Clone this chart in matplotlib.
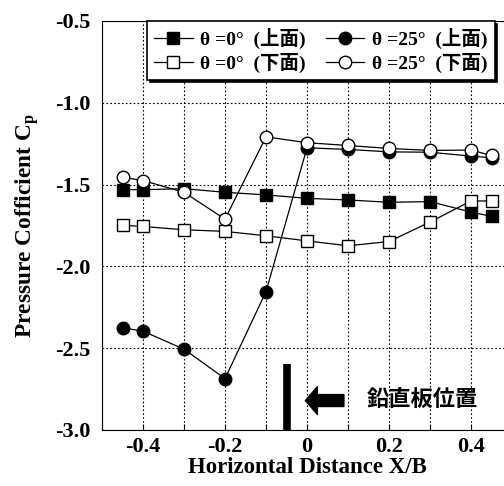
import matplotlib
matplotlib.use("Agg")
import matplotlib.pyplot as plt
from matplotlib.ticker import MultipleLocator, FixedLocator

plt.rcParams['axes.unicode_minus'] = False
plt.rcParams['mathtext.fontset'] = 'custom'
plt.rcParams['mathtext.rm'] = 'Liberation Serif:bold'
plt.rcParams['mathtext.bf'] = 'Liberation Serif:bold'

x = [-0.45, -0.4, -0.3, -0.2, -0.1, 0.0, 0.1, 0.2, 0.3, 0.4, 0.45]
cp_0_upper = [-1.531, -1.531, -1.525, -1.547, -1.563, -1.584, -1.594, -1.608, -1.604, -1.668, -1.694]
cp_0_lower = [-1.749, -1.756, -1.776, -1.786, -1.813, -1.844, -1.874, -1.848, -1.729, -1.600, -1.600]
cp_25_upper = [-2.375, -2.396, -2.506, -2.686, -2.154, -1.275, -1.285, -1.300, -1.302, -1.326, -1.336]
cp_25_lower = [-1.455, -1.475, -1.547, -1.711, -1.208, -1.244, -1.261, -1.279, -1.291, -1.289, -1.322]

labels = ["θ =0°  (上面)", "θ =0°  (下面)", "θ =25°  (上面)", "θ =25°  (下面)"]
xticks = [-0.4, -0.2, 0.0, 0.2, 0.4]
xticklabels = ["-0.4", "-0.2", "0", "0.2", "0.4"]
yticks = [-3.0, -2.5, -2.0, -1.5, -1.0, -0.5]
yticklabels = ["-3.0", "-2.5", "-2.0", "-1.5", "-1.0", "-0.5"]
plate_x = -0.05
plate_top = -2.594
plate_text = "鉛直板位置"

serif = ['Liberation Serif', 'Noto Sans CJK JP']

fig = plt.figure(figsize=(5.04, 4.86), dpi=100)
ax = fig.add_axes([102/504, 1-430/486, 410/504, 409/486])

ax.plot(x, cp_25_upper, '-o', color='k', lw=0.9, ms=9, mfc='k', mec='k', label=labels[2], zorder=3)
ax.plot(x, cp_0_upper, '-s', color='k', lw=0.9, ms=9, mfc='k', mec='k', label=labels[0], zorder=3)
ax.plot(x, cp_0_lower, '-s', color='k', lw=0.9, ms=9, mfc='white', mec='k', mew=1.0, label=labels[1], zorder=3)
ax.plot(x, cp_25_lower, '-o', color='k', lw=0.9, ms=9, mfc='white', mec='k', mew=1.0, label=labels[3], zorder=4)

ax.set_xlim(-0.5, 0.5)
ax.set_ylim(-3.0, -0.5)
ax.xaxis.set_major_locator(FixedLocator(xticks))
ax.xaxis.set_minor_locator(MultipleLocator(0.1))
ax.set_xticklabels(xticklabels)
ax.yaxis.set_major_locator(FixedLocator(yticks))
ax.set_yticklabels(yticklabels)
ax.grid(True, which='both', axis='x', linestyle=(0, (1.5, 2)), color='k', lw=0.8)
ax.grid(True, which='major', axis='y', linestyle=(0, (1.5, 2)), color='k', lw=0.8)
ax.tick_params(which='both', direction='in', length=4, width=0.8)
ax.tick_params(axis='y', length=0)
for lab in ax.get_xticklabels() + ax.get_yticklabels():
    lab.set_fontfamily('Liberation Serif')
    lab.set_fontweight('bold')
    lab.set_fontsize(16)
ax.tick_params(axis='x', pad=5)
ax.tick_params(axis='y', pad=8)

ax.set_xlabel("Horizontal Distance X/B", family='Liberation Serif', weight='bold', fontsize=16.5, labelpad=0)
ax.set_ylabel(r"Pressure Cofficient C$_\mathbf{p}$", family='Liberation Serif', weight='bold', fontsize=16.8, labelpad=10)

# vertical plate
ax.plot([plate_x, plate_x], [plate_top, -3.0], color='k', lw=5.5, solid_capstyle='butt', zorder=5, clip_on=False)
ax.annotate('', xy=(-0.004, -2.82), xytext=(0.09, -2.82),
            arrowprops=dict(arrowstyle='simple,head_length=0.86,head_width=2.0,tail_width=0.86',
                            fc='k', ec='k', shrinkA=0, shrinkB=0, mutation_scale=10))
ax.text(0.145, -2.82, plate_text, family='Noto Sans CJK JP', weight='bold', fontsize=16, va='center', ha='left')

h, l = ax.get_legend_handles_labels()
order = [1, 2, 0, 3]
leg = ax.legend([h[i] for i in order], [l[i] for i in order], ncol=2,
                loc='upper left', bbox_to_anchor=(147/504, 1-21/486), bbox_transform=fig.transFigure,
                prop={'family': serif, 'weight': 'bold', 'size': 14},
                frameon=True, fancybox=False, shadow={'color': 'k', 'alpha': 1},
                borderaxespad=0, handlelength=2.0, handletextpad=0.4, columnspacing=1.0,
                labelspacing=0.2, borderpad=0.35)
leg.get_frame().set_edgecolor('k')
leg.get_frame().set_linewidth(1.2)

fig.savefig("out.png", dpi=100)
